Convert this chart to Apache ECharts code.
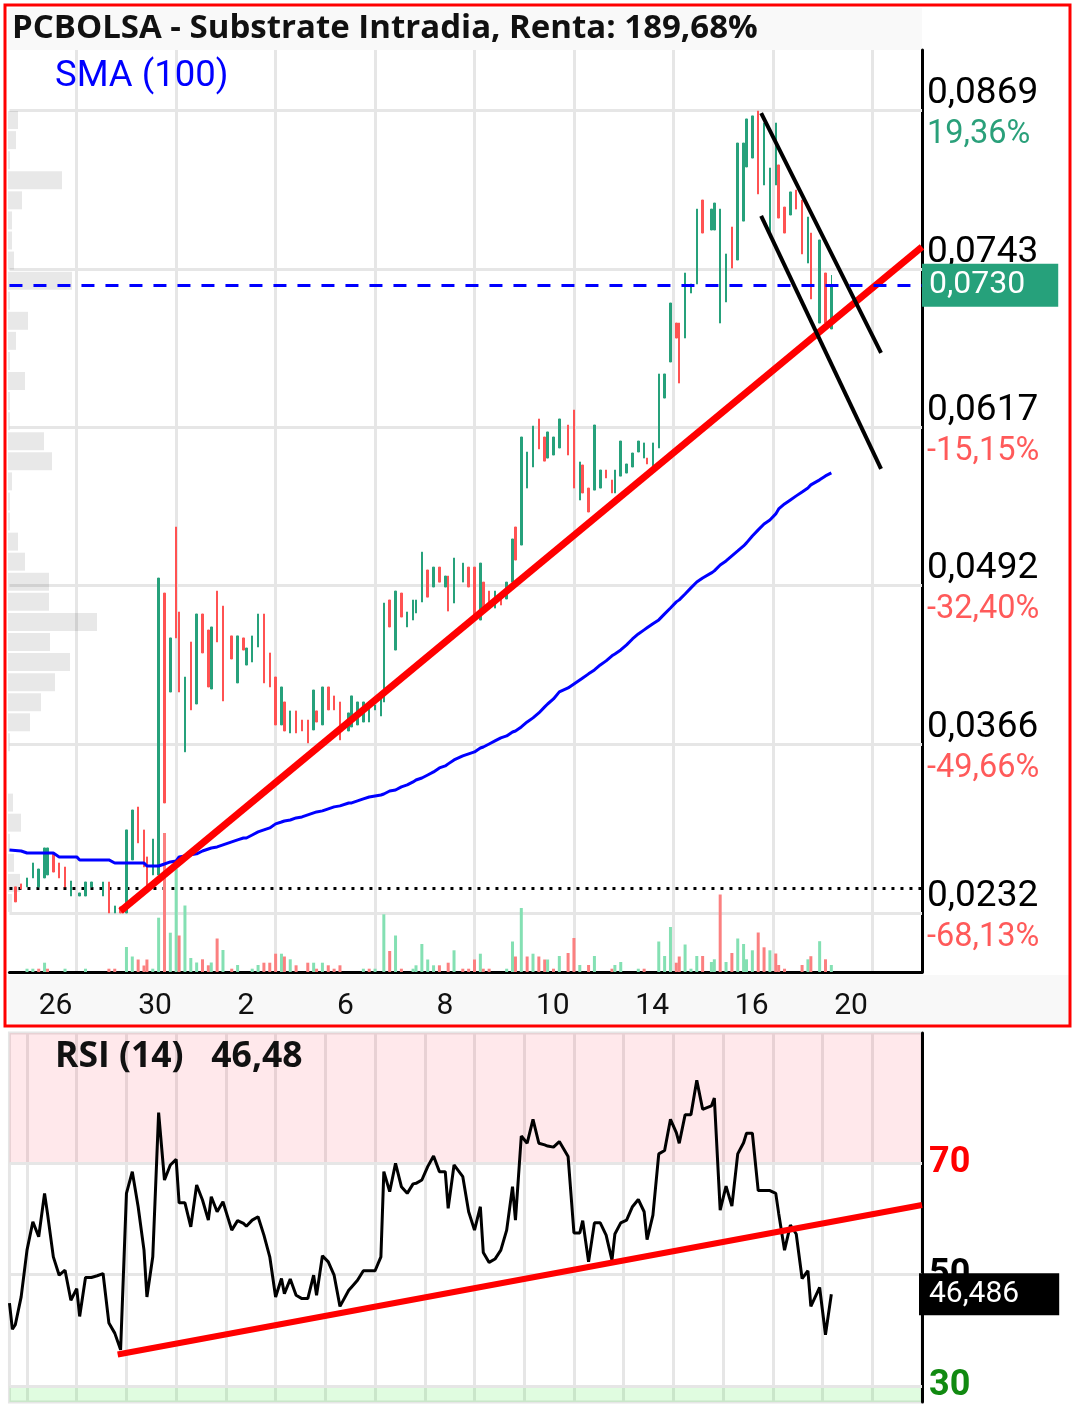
<!DOCTYPE html>
<html>
<head>
<meta charset="utf-8">
<title>PCBOLSA - Substrate Intradia</title>
<script src="https://cdn.jsdelivr.net/npm/echarts@6/dist/echarts.min.js"></script>
<style>
html, body { margin: 0; padding: 0; background: #fff; }
#chart { width: 1076px; height: 1409px; }
</style>
</head>
<body>
<div id="chart"></div>
<script>
// position of every bar on the intraday axis (in half-bar steps)
var slot = [0,1,2,4,6,8,10,12,13,15,
    17,19,21,23,24,26,28,30,32,34,
    36,38,40,42,44,46,47,49,51,53,
    55,57,58,60,62,64,66,68,69,71,
    73,76,78,80,81,83,85,87,89,91,
    93,94,96,98,100,102,104,105,107,109,
    111,113,116,117,119,121,123,125,127,128,
    130,132,134,136,138,139,141,143,145,147,
    149,150,152,155,157,159,161,162,164,166,
    168,170,172,173,175,177,179,181,183,184,
    186,188,191,193,195,196,198,200,202,204,
    206,207,209,211,213,215,217,218,220,222,
    224,226,228,229,231,233,235,237,240,241,
    243,245,247,249,251,252,254,256,258,260,
    262,263,265,267,269,271,273,274,277,279,
    281];

var low = [null,null,.02408,.02511,.02527,.02598,.02527,.02598,.02622,.02645,
    .02598,.02527,.02455,null,.02455,.02455,.02527,null,.02455,.02320,
    .02320,.02320,.02320,.02741,.02876,.02685,.02503,.02622,.02622,.03193,
    .04073,.04502,.04073,.03598,.03931,.03978,.04383,.04113,.04097,.04470,
    .04002,.04335,.04145,.04406,.04287,.04311,.04430,.04145,.04113,.03812,
    .03812,.03764,.03748,.03748,.03764,.03669,.03772,.03835,.03812,.03931,
    .03931,.03693,.03764,.03796,.03812,.03835,.03835,.03931,.03883,.03994,
    .04589,.04406,.04668,.04589,.04644,.04700,.04787,.04826,.04906,.04945,
    .04906,.04715,.04779,.04945,.04906,.04668,.04644,.04723,.04779,.04739,
    .04763,.04811,.04945,.05120,.05239,.05691,.05858,.06001,.05905,.05929,
    .05953,.06009,.05953,.05691,.05596,.05652,.05501,.05675,.05691,.05771,
    .05652,.05652,.05786,.05810,.05858,.05977,.05929,.05882,.05858,.06009,
    .06405,.06691,.06881,.06524,.06881,.07238,.07310,.07714,.07738,.07738,
    .07000,.07167,.07436,.07500,.07809,.08238,.08309,.08024,.08095,.07698,
    .08095,.07833,.07714,.07857,.07904,.07548,.07476,.07191,.07000,.07000,
    .06953];

var high = [null,null,.02527,.02551,.02598,.02717,.02669,.02836,.02836,.02796,
    .02717,.02685,.02574,null,.02479,.02566,.02566,null,.02566,.02566,
    .02376,.02368,.02979,.03137,.03161,.02979,.02765,.02907,.04977,.04858,
    .04502,.05382,.04708,.04192,.04470,.04692,.04692,.04565,.04589,.04874,
    .04755,.04518,.04518,.04502,.04422,.04518,.04692,.04692,.04383,.04192,
    .04113,.03994,.03923,.03923,.03851,.03851,.04089,.03923,.04113,.04113,
    .04042,.03994,.03907,.04042,.03994,.03994,.03994,.03970,.04034,.04779,
    .04803,.04874,.04858,.04708,.04803,.04803,.05183,.05041,.05064,.05064,
    .04993,.04993,.05136,.05096,.05064,.05064,.05096,.04945,.04874,.04874,
    .04842,.04945,.05287,.05382,.06096,.05977,.06183,.06239,.06096,.06136,
    .06096,.06239,.06191,.06310,.05898,.05874,.05691,.06191,.05834,.05834,
    .05755,.05834,.06064,.05882,.05969,.06064,.06049,.05929,.06049,.06596,
    .06596,.07159,.07000,.07000,.07397,.07310,.07904,.07976,.07904,.07952,
    .07904,.07548,.07762,.08428,.08428,.08619,.08643,.08682,.08587,.08230,
    .08587,.08254,.07920,.08040,.08055,.07976,.07841,.07714,.07659,.07397,
    .07381];

// 1 = vela alcista, 0 = bajista
var up = [0,0,0,0,1,1,1,1,1,0,
    0,0,1,0,1,1,1,0,1,0,
    1,0,1,1,0,0,0,1,1,0,
    1,0,0,1,0,1,0,0,1,0,
    0,0,1,0,1,1,1,0,0,0,
    1,0,1,0,0,0,1,0,1,0,
    0,0,1,1,1,1,1,1,1,1,
    0,1,0,1,1,1,1,0,1,0,
    1,0,1,1,0,0,1,0,0,1,
    0,1,1,0,1,1,1,0,0,1,
    1,1,0,0,1,0,0,1,1,0,
    0,1,1,1,1,1,1,0,1,1,
    1,1,0,0,1,1,1,0,1,1,
    1,1,0,1,1,1,1,0,1,1,
    1,0,0,1,0,0,1,0,1,0,
    1];

var vol = [0,0,0,0,33,33,33,93,33,0,
    0,33,0,0,0,33,0,0,0,33,
    33,0,250,155,125,65,125,33,543,1390,
    393,1030,365,665,140,95,127,67,95,335,
    220,33,70,0,0,33,70,93,93,183,
    183,155,127,67,0,93,93,33,93,67,
    33,67,0,0,0,33,33,33,0,577,
    210,365,33,0,33,67,280,125,67,67,
    0,93,217,33,33,125,183,33,33,0,
    0,33,305,155,640,155,183,155,125,125,
    33,160,190,340,70,0,70,160,0,0,
    33,70,100,0,0,33,33,0,0,305,
    160,450,93,155,275,33,160,160,100,127,
    775,100,190,335,280,127,217,395,247,217,
    185,70,33,0,0,70,127,158,308,127,
    70];

var volUp = [0,0,0,0,1,1,0,1,0,0,
    0,1,0,0,0,1,0,0,0,0,
    0,0,1,1,0,0,0,1,1,0,
    1,1,0,1,1,1,0,0,1,0,
    1,0,1,0,0,1,1,0,0,0,
    1,0,1,0,0,0,1,0,1,0,
    0,0,0,0,0,1,0,1,0,1,
    0,1,0,0,1,1,1,1,1,0,
    0,0,1,0,0,0,1,0,0,0,
    0,1,1,0,1,0,1,0,0,1,
    0,1,0,0,1,0,0,1,0,0,
    0,1,1,0,0,1,0,0,0,1,
    1,1,0,0,1,1,1,0,1,1,
    0,1,0,1,1,1,1,0,0,1,
    0,0,0,0,0,0,1,0,1,0,
    1];

var rsi = [44.9,40.2,41.0,46.0,54.4,59.5,56.8,64.6,61.0,53.2,
    49.9,50.8,45.4,47.5,42.5,49.5,49.5,49.8,50.2,41.3,
    39.5,36.5,64.6,68.5,62.2,54.4,46.0,53.2,79.1,67.0,
    69.7,70.7,62.9,62.9,58.6,66.1,63.4,59.8,64.0,61.3,
    63.1,58.0,59.7,59.2,58.7,59.8,60.4,57.1,53.2,46.0,
    49.3,46.6,49.2,46.3,45.7,45.7,49.9,46.3,53.4,52.3,
    49.9,44.3,47.2,47.8,49.0,50.7,50.7,50.7,53.2,68.5,
    64.9,70.0,65.8,64.6,66.3,66.4,67.0,69.4,71.3,68.5,
    68.5,61.9,69.7,67.6,61.3,58.0,62.2,54.0,52.2,52.8,
    54.4,58.0,65.8,59.8,74.9,73.6,77.9,73.6,73.3,73.1,
    72.9,73.9,71.2,57.5,57.5,59.7,52.3,59.3,59.3,57.1,
    52.6,57.3,59.3,59.8,62.2,63.5,61.3,56.3,60.7,71.7,
    72.3,77.9,75.5,73.6,78.7,78.7,84.9,79.7,80.3,81.7,
    61.6,65.9,62.3,71.7,73.7,75.4,75.4,65.1,65.1,65.1,
    64.6,61.0,54.4,58.9,57.3,49.3,50.7,44.3,47.7,39.2,
    46.486];

var sma = [.02820,.02818,.02816,.02812,.02796,.02796,.02796,.02796,.02796,.02796,
    .02765,.02765,.02765,.02765,.02741,.02741,.02741,.02741,.02741,.02741,
    .02717,.02717,.02717,.02717,.02717,.02717,.02693,.02693,.02693,.02709,
    .02725,.02733,.02765,.02773,.02781,.02789,.02812,.02828,.02836,.02844,
    .02860,.02884,.02900,.02915,.02915,.02939,.02963,.02979,.02995,.03027,
    .03042,.03050,.03058,.03074,.03082,.03098,.03114,.03122,.03130,.03146,
    .03162,.03170,.03193,.03193,.03209,.03225,.03240,.03248,.03256,.03264,
    .03288,.03296,.03320,.03336,.03360,.03375,.03391,.03415,.03439,.03471,
    .03487,.03503,.03534,.03566,.03582,.03598,.03629,.03637,.03661,.03685,
    .03709,.03725,.03756,.03764,.03796,.03836,.03868,.03907,.03955,.03978,
    .04018,.04074,.04105,.04137,.04169,.04185,.04217,.04248,.04288,.04320,
    .04360,.04375,.04407,.04447,.04494,.04534,.04566,.04582,.04614,.04645,
    .04693,.04740,.04788,.04804,.04851,.04899,.04946,.04978,.05018,.05034,
    .05081,.05113,.05153,.05192,.05232,.05256,.05311,.05359,.05406,.05438,
    .05486,.05525,.05565,.05597,.05629,.05660,.05692,.05716,.05756,.05787,
    .05811];

// perfil de volumen por precio (40 tramos, de arriba abajo)
var profile = [100,80,20,540,140,40,40,60,640,20,
    200,80,20,170,20,20,360,440,40,20,
    20,100,170,410,410,890,420,620,470,330,
    220,20,0,0,50,130,20,60,120,40];

var lastPrice = 0.0730;
var basePrice = 0.0252;
var priceTicks = [0.0869, 0.0743, 0.0617, 0.0492, 0.0366, 0.0232];
var pctLabels = ['19,36%', '', '-15,15%', '-32,40%', '-49,66%', '-68,13%'];
var dayLabels = ['26', '30', '2', '6', '8', '10', '14', '16', '20'];
var rsiLevels = [70, 50, 30];

// lineas dibujadas a mano
var trendUp = [[38, 0.02336], [312, 0.07604]];
var channelTop = [[257, 0.08666], [298, 0.06763]];
var channelLow = [[257, 0.07850], [298, 0.05843]];
var rsiTrend = [[37, 35.66], [312, 62.5]];

var SLOTS = 313;
var GREEN = '#26a17b', RED = '#ff5252';
var VGREEN = '#84e0b3', VRED = '#fb8080';
var PCT_GREEN = '#2aa07a', PCT_RED = '#ff5a5a';

function fmt(v, d) {
    return v.toFixed(d).replace('.', ',');
}

var categories = [];
for (var i = 0; i < SLOTS; i++) {
    categories.push('');
}
for (var k = 0; k < dayLabels.length; k++) {
    categories[10 + 34 * k] = dayLabels[k];
}

function priceGridLine(i) {
    return i >= 23 && (i - 23) % 34 === 0;
}
function rsiGridLine(i) {
    return i >= 6 && (i - 6) % 17 === 0;
}

var kData = [], volData = [], rsiData = [], smaData = [];
for (var n = 0; n < slot.length; n++) {
    if (low[n] != null) {
        var o = up[n] ? low[n] : high[n];
        var c = up[n] ? high[n] : low[n];
        if (n === slot.length - 1) {
            c = lastPrice;
        }
        kData.push([slot[n], o, c, low[n], high[n]]);
    }
    if (vol[n] > 0) {
        volData.push({value: [slot[n], vol[n]], itemStyle: {color: volUp[n] ? VGREEN : VRED}});
    }
    rsiData.push([slot[n], rsi[n]]);
    smaData.push([slot[n], sma[n]]);
}
var lastRsi = rsi[rsi.length - 1];

var priceMin = 0.01852, priceMax = 0.09166;
var rsiMin = 27.13, rsiMax = 93.4;

var chart = echarts.init(document.getElementById('chart'));

var option = {
    animation: false,
    backgroundColor: '#fff',
    textStyle: {fontFamily: 'Roboto'},
    grid: [
        {left: 9.46, right: 154, top: 50, height: 922, outerBoundsMode: 'none'},
        {left: 9.46, right: 154, top: 1033, height: 369, show: true, borderColor: '#e6e6e6', borderWidth: 3, outerBoundsMode: 'none'},
        {left: 8, right: 154, top: 110, height: 803, outerBoundsMode: 'none'}
    ],
    xAxis: [
        {
            type: 'category', gridIndex: 0, data: categories, boundaryGap: false,
            axisLine: {lineStyle: {color: '#000', width: 3}},
            axisTick: {show: false},
            axisLabel: {interval: 0, align: 'left', fontSize: 30, color: '#111', margin: 19},
            splitLine: {show: true, interval: priceGridLine, lineStyle: {color: '#e6e6e6', width: 3}}
        },
        {
            type: 'category', gridIndex: 1, data: categories, boundaryGap: false,
            axisLine: {show: false}, axisTick: {show: false}, axisLabel: {show: false},
            splitLine: {show: true, interval: rsiGridLine, lineStyle: {color: '#e6e6e6', width: 3}}
        },
        {type: 'value', gridIndex: 2, min: 0, max: 9140, show: false}
    ],
    yAxis: [
        {
            type: 'value', gridIndex: 0, position: 'right', min: priceMin, max: priceMax,
            axisLine: {show: true, lineStyle: {color: '#000', width: 3}},
            axisTick: {show: false}, axisLabel: {show: false}, splitLine: {show: false}
        },
        {type: 'value', gridIndex: 0, min: 0, max: 9220, show: false, splitLine: {show: false}},
        {
            type: 'value', gridIndex: 1, position: 'right', min: rsiMin, max: rsiMax,
            axisLine: {show: true, lineStyle: {color: '#000', width: 3}},
            axisTick: {show: false}, axisLabel: {show: false}, splitLine: {show: false}
        },
        {type: 'category', gridIndex: 2, data: profile.map(function (v, i) { return i; }), inverse: true, show: false}
    ],
    series: [
        {
            // lineas de precio y etiquetas del eje derecho
            type: 'line', xAxisIndex: 0, yAxisIndex: 0, data: [], silent: true,
            markLine: {
                silent: true, symbol: ['none', 'none'], z: 1, animation: false, precision: 5,
                lineStyle: {color: '#e6e6e6', width: 3, type: 'solid'},
                label: {
                    show: true, position: 'end', distance: 5, padding: [8, 0, 0, 0],
                    formatter: function (p) {
                        var pct = p.name || ' ';
                        var cls = pct.charAt(0) === '-' ? 'n' : 'g';
                        return '{v|' + fmt(p.value, 4) + '}\n{' + cls + '|' + pct + '}';
                    },
                    rich: {
                        v: {fontSize: 37, color: '#000', lineHeight: 41, fontFamily: 'Roboto'},
                        g: {fontSize: 32.5, color: PCT_GREEN, lineHeight: 41, fontFamily: 'Roboto'},
                        n: {fontSize: 32.5, color: PCT_RED, lineHeight: 41, fontFamily: 'Roboto'}
                    }
                },
                data: priceTicks.map(function (v, i) {
                    return {yAxis: v, name: pctLabels[i]};
                }).concat([{
                    yAxis: basePrice,
                    lineStyle: {color: '#000', width: 3, type: [3, 6]},
                    label: {show: false}
                }])
            }
        },
        {
            type: 'bar', xAxisIndex: 2, yAxisIndex: 3, data: profile, barWidth: 18, z: 1, silent: true,
            itemStyle: {color: 'rgba(0,0,0,0.09)'}
        },
        {
            type: 'bar', xAxisIndex: 0, yAxisIndex: 1, data: volData, barWidth: 3, z: 2, silent: true
        },
        {
            type: 'candlestick', xAxisIndex: 0, yAxisIndex: 0, data: kData, z: 3,
            encode: {x: 0, y: [1, 2, 3, 4]},
            barWidth: 2,
            itemStyle: {color: GREEN, color0: RED, borderColor: GREEN, borderColor0: RED, borderWidth: 1},
            markLine: {
                silent: true, symbol: ['none', 'none'], animation: false, precision: 5,
                label: {show: false},
                data: [
                    [{coord: trendUp[0], lineStyle: {color: '#ff0000', width: 7, type: 'solid'}},
                     {coord: trendUp[1], lineStyle: {color: '#ff0000', width: 7, type: 'solid'}}],
                    [{coord: channelTop[0], lineStyle: {color: '#000', width: 4, type: 'solid'}},
                     {coord: channelTop[1], lineStyle: {color: '#000', width: 4, type: 'solid'}}],
                    [{coord: channelLow[0], lineStyle: {color: '#000', width: 4, type: 'solid'}},
                     {coord: channelLow[1], lineStyle: {color: '#000', width: 4, type: 'solid'}}],
                    {
                        yAxis: lastPrice,
                        lineStyle: {color: '#0000ff', width: 3, type: [13, 11]},
                        label: {
                            show: true, position: 'end', distance: 0,
                            formatter: fmt(lastPrice, 4),
                            color: '#fff', backgroundColor: GREEN, fontSize: 32, fontFamily: 'Roboto',
                            padding: [7, 33, 1, 7], lineHeight: 35
                        }
                    }
                ]
            }
        },
        {
            type: 'line', xAxisIndex: 0, yAxisIndex: 0, data: smaData, z: 4,
            showSymbol: false, silent: true, connectNulls: true,
            lineStyle: {color: '#0000ff', width: 3}
        },
        {
            // niveles del RSI
            type: 'line', xAxisIndex: 1, yAxisIndex: 2, data: [], silent: true,
            markArea: {
                silent: true, z: 0,
                data: [
                    [{yAxis: 70, itemStyle: {color: 'rgba(255,0,30,0.09)'}}, {yAxis: rsiMax}],
                    [{yAxis: rsiMin, itemStyle: {color: 'rgba(0,230,0,0.12)'}}, {yAxis: 30}]
                ]
            },
            markLine: {
                silent: true, symbol: ['none', 'none'], z: 1, animation: false, precision: 3,
                lineStyle: {color: '#e6e6e6', width: 3, type: 'solid'},
                label: {show: true, position: 'end', distance: 7, fontSize: 36, fontWeight: 'bold', fontFamily: 'Roboto'},
                data: rsiLevels.map(function (v) {
                    var col = v > 50 ? '#ff0000' : (v < 50 ? '#118a11' : '#000');
                    return {yAxis: v, label: {color: col, formatter: String(v)}};
                })
            }
        },
        {
            type: 'line', xAxisIndex: 1, yAxisIndex: 2, data: rsiData, z: 4,
            showSymbol: false, silent: true,
            lineStyle: {color: '#000', width: 3},
            markLine: {
                silent: true, symbol: ['none', 'none'], animation: false, precision: 3,
                label: {show: false},
                data: [
                    [{coord: rsiTrend[0], lineStyle: {color: '#ff0000', width: 6, type: 'solid'}},
                     {coord: rsiTrend[1], lineStyle: {color: '#ff0000', width: 6, type: 'solid'}}],
                    {
                        yAxis: lastRsi,
                        lineStyle: {color: 'rgba(0,0,0,0)', width: 1},
                        label: {
                            show: true, position: 'end', distance: -3,
                            formatter: fmt(lastRsi, 3),
                            color: '#fff', backgroundColor: '#000', fontSize: 30, fontFamily: 'Roboto',
                            padding: [6, 40, 2, 10], lineHeight: 34
                        }
                    }
                ]
            }
        }
    ],
    graphic: {
        elements: [
            {type: 'rect', z: -10, shape: {x: 8, y: 975, width: 1061, height: 50}, style: {fill: '#f8f8f8'}},
            {type: 'rect', z: -10, shape: {x: 8, y: 8, width: 914, height: 42}, style: {fill: '#f9f9f9'}},
            {type: 'rect', z: 20, shape: {x: 5, y: 5, width: 1065, height: 1021}, style: {fill: 'none', stroke: '#ff0000', lineWidth: 3}},
            {type: 'text', z: 20, x: 12, y: 29, style: {text: 'PCBOLSA - Substrate Intradia, Renta: 189,68%', font: 'bold 33px "Open Sans"', fill: '#111', verticalAlign: 'middle'}},
            {type: 'text', z: 20, x: 55, y: 77, style: {text: 'SMA (100)', font: '36.5px Roboto', fill: '#0000ff', verticalAlign: 'middle'}},
            {type: 'text', z: 20, x: 55, y: 1057, style: {text: 'RSI (14)   ' + fmt(Math.floor(lastRsi * 100) / 100, 2), font: 'bold 35.5px "Open Sans"', fill: '#111', verticalAlign: 'middle'}}
        ]
    }
};

chart.setOption(option);
</script>
</body>
</html>
